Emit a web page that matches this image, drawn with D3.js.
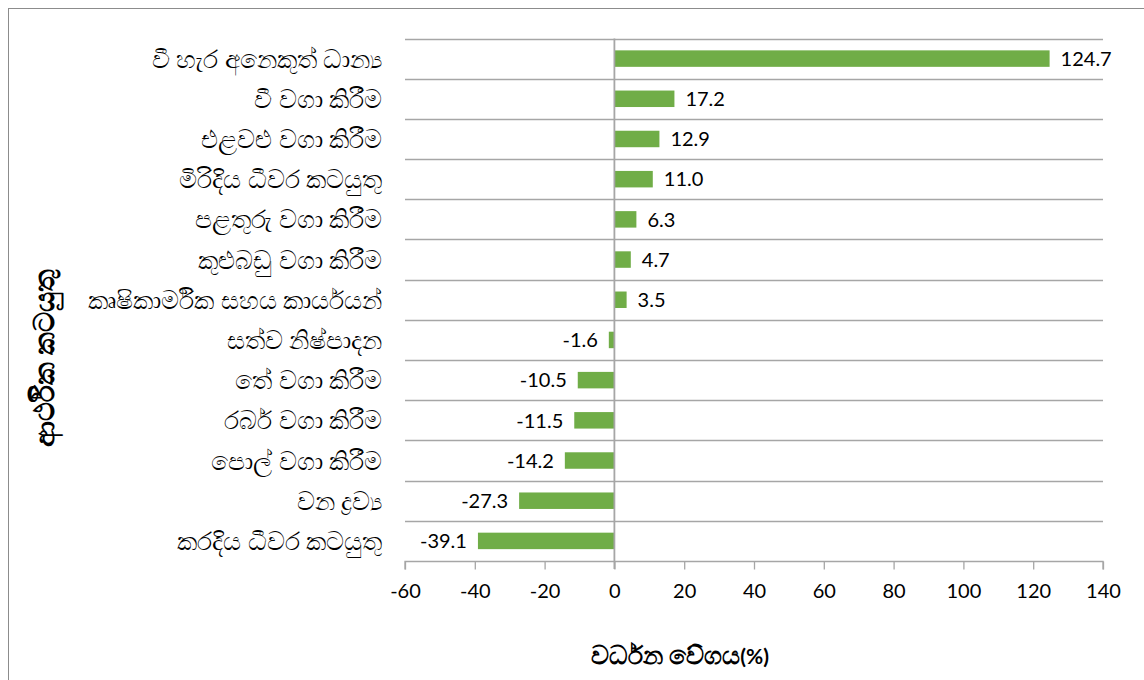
<!DOCTYPE html>
<html>
<head>
<meta charset="utf-8">
<script src="https://cdn.jsdelivr.net/npm/d3@7"></script>
<style>
  body { margin: 0; background: #fff; }
  svg text { font-family: Lato, "Noto Sans", sans-serif; }
</style>
</head>
<body>
<svg id="chart"></svg>
<script>
// DATA
var categories = [
  "වී හැර අනෙකුත් ධාන්‍ය",
  "වී වගා කිරීම",
  "එළවළු වගා කිරීම",
  "මිරිදිය ධීවර කටයුතු",
  "පළතුරු වගා කිරීම",
  "කුළුබඩු වගා කිරීම",
  "කෘෂිකාර්මික සහය කාර්යයන්",
  "සත්ව නිෂ්පාදන",
  "තේ වගා කිරීම",
  "රබර් වගා කිරීම",
  "පොල් වගා කිරීම",
  "වන ද්‍රව්‍ය",
  "කරදිය ධීවර කටයුතු"
];
var growth = [124.7, 17.2, 12.9, 11.0, 6.3, 4.7, 3.5, -1.6, -10.5, -11.5, -14.2, -27.3, -39.1];
var xTicks = [-60, -40, -20, 0, 20, 40, 60, 80, 100, 120, 140];
var xTitle = "වර්ධන වේගය";
var yTitle = "ආර්ථික කටයුතු";

// GLOBALS
var width = 1144;
var height = 680;
var plot = { left: 405, right: 1103, top: 38.5, bottom: 561 };
var svg = d3.select('#chart').attr('width', width).attr('height', height);

// outer frame
svg.append('rect')
  .attr('x', 8.5).attr('y', 8.5)
  .attr('width', width).attr('height', height)
  .attr('fill', 'none')
  .attr('stroke', '#8c8c8c');

// SCALES
var xScale = d3.scaleLinear().domain([-60, 140]).range([plot.left, plot.right]);
var yScale = d3.scaleBand().domain(categories).range([plot.top, plot.bottom])
  .paddingInner(0.59).paddingOuter(0.295);

// category gridlines (band boundaries)
var boundaries = d3.range(categories.length).map(function(i) {
  return plot.top + i * (plot.bottom - plot.top) / categories.length;
});
svg.append('g').selectAll('line')
  .data(boundaries)
  .enter().append('line')
  .attr('x1', plot.left).attr('x2', plot.right)
  .attr('y1', function(d) { return Math.round(d) + 0.5; })
  .attr('y2', function(d) { return Math.round(d) + 0.5; })
  .attr('stroke', '#a6a6a6')
  .attr('stroke-width', 1.3);

// X AXIS
var xAxis = d3.axisBottom(xScale).tickValues(xTicks).tickSize(8).tickPadding(14)
  .tickFormat(function(d) { return String(d); });
var xAxisG = svg.append('g')
  .attr('transform', 'translate(0,' + (Math.round(plot.bottom) + 0.5) + ')')
  .call(xAxis);
xAxisG.select('.domain').attr('stroke', '#a6a6a6').attr('stroke-width', 1.3)
  .attr('d', 'M' + plot.left + ',8V0H' + plot.right + 'V8');
xAxisG.selectAll('.tick line').attr('stroke', '#a6a6a6').attr('stroke-width', 1.3);
xAxisG.selectAll('.tick text')
  .attr('fill', '#000')
  .style('font-size', '20px');

// BARS
svg.append('g').selectAll('rect')
  .data(growth)
  .enter().append('rect')
  .attr('x', function(d) { return xScale(Math.min(0, d)); })
  .attr('y', function(d, i) { return yScale(categories[i]); })
  .attr('width', function(d) { return Math.abs(xScale(d) - xScale(0)); })
  .attr('height', yScale.bandwidth())
  .attr('fill', '#70ad47');

// zero axis line
svg.append('line')
  .attr('x1', xScale(0)).attr('x2', xScale(0))
  .attr('y1', plot.top).attr('y2', plot.bottom + 8)
  .attr('stroke', '#a6a6a6')
  .attr('stroke-width', 1.8);

// DATA LABELS
svg.append('g').selectAll('text')
  .data(growth)
  .enter().append('text')
  .attr('x', function(d) { return d >= 0 ? xScale(d) + 11 : xScale(d) - 11; })
  .attr('y', function(d, i) { return yScale(categories[i]) + yScale.bandwidth() / 2; })
  .attr('dy', '0.36em')
  .attr('text-anchor', function(d) { return d >= 0 ? 'start' : 'end'; })
  .style('font-size', '20px')
  .attr('fill', '#000')
  .text(function(d) { return d.toFixed(1); });

// CATEGORY LABELS
svg.append('g').selectAll('text')
  .data(categories)
  .enter().append('text')
  .attr('x', 382)
  .attr('y', function(d) { return yScale(d) + yScale.bandwidth() / 2; })
  .attr('dy', '0.36em')
  .attr('text-anchor', 'end')
  .style('font-size', '25px')
  .attr('fill', '#000')
  .text(function(d) { return d; });

// AXIS TITLES
var xt = svg.append('text')
  .attr('x', 680).attr('y', 664)
  .attr('text-anchor', 'middle')
  .style('font-weight', 'bold');
xt.append('tspan').style('font-size', '25px').text(xTitle);
xt.append('tspan').style('font-size', '21px').text('(%)');

svg.append('text')
  .attr('transform', 'translate(54,358) rotate(-90)')
  .attr('text-anchor', 'middle')
  .style('font-size', '28px')
  .style('font-weight', 'bold')
  .text(yTitle);
</script>
</body>
</html>
